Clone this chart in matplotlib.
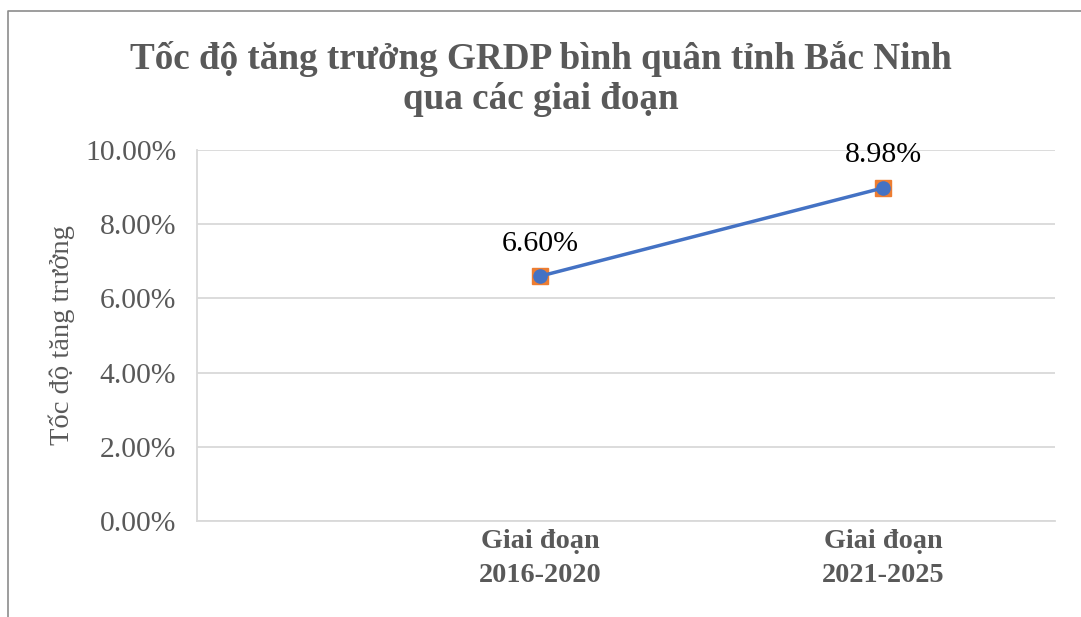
import matplotlib.pyplot as plt
from matplotlib.lines import Line2D
from matplotlib.ticker import FuncFormatter

# data
periods = ["Giai đoạn\n2016-2020", "Giai đoạn\n2021-2025"]
growth = [6.60, 8.98]
value_labels = ["6.60%", "8.98%"]
yticks = [0, 2, 4, 6, 8, 10]

plt.rcParams['font.family'] = ['Liberation Serif', 'DejaVu Serif']
grey = "#595959"

fig = plt.figure(figsize=(10.81, 6.17), dpi=100)
ax = fig.add_axes([197/1081, 96/617, 858/1081, 371/617])

x = list(range(len(periods)))
ax.plot(x, growth, linestyle="none", marker="s", markersize=11,
        color="#ED7D31", zorder=3)
ax.plot(x, growth, color="#4472C4", linewidth=2.5, marker="o",
        markersize=9.5, zorder=4)

for xi, yi, lab in zip(x, growth, value_labels):
    ax.annotate(lab, (xi, yi), xytext=(0, 14), textcoords="offset points",
                ha="center", va="bottom", fontsize=21.5, color="#000000")

ax.set_xlim(-1, 1.5)
ax.set_ylim(0, 10)
ax.set_yticks(yticks)
ax.yaxis.set_major_formatter(FuncFormatter(lambda v, p: f"{v:.2f}%"))
ax.set_xticks(x)
ax.set_xticklabels(periods, fontweight="bold", fontsize=20.3, color=grey,
                   linespacing=1.45)
ax.tick_params(axis="y", length=0, pad=15, labelsize=21.3, labelcolor=grey)
ax.tick_params(axis="x", length=0, pad=6)

ax.grid(axis="y", color="#D9D9D9", linewidth=1.3)
ax.set_axisbelow(True)
for s in ["top", "right"]:
    ax.spines[s].set_visible(False)
for s in ["left", "bottom"]:
    ax.spines[s].set_color("#D9D9D9")
    ax.spines[s].set_linewidth(1.3)

ax.set_ylabel("Tốc độ tăng trưởng", fontsize=20.5, color=grey, labelpad=7)

fig.text(0.5, 1 - 79/617, "Tốc độ tăng trưởng GRDP bình quân tỉnh Bắc Ninh\nqua các giai đoạn",
         ha="center", va="center", fontsize=26.7, fontweight="bold", color=grey,
         linespacing=1.22)

# chart frame (top and left edges visible in the reference)
fig.add_artist(Line2D([8/1081, 8/1081, 1], [0, 1 - 11/617, 1 - 11/617],
                      transform=fig.transFigure, color="#8C8C8C", linewidth=1.2))

fig.savefig("out.png", dpi=100, facecolor="white")
